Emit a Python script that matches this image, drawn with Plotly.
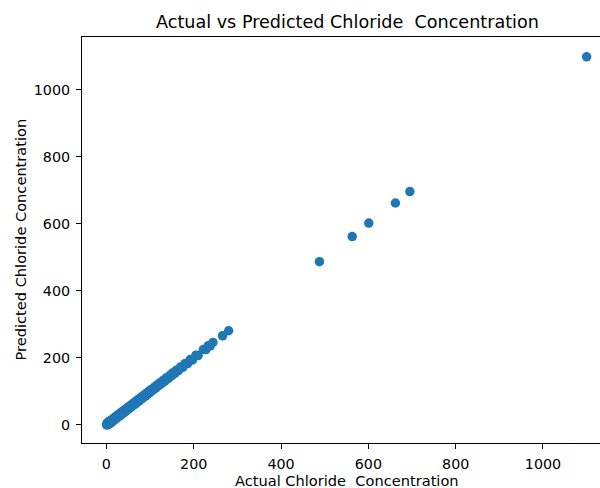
import plotly.graph_objects as go

actual = [0.5, 1, 1.5, 2, 2.5, 3, 3.5, 4, 5, 5.5, 6, 7, 8, 9, 10, 11, 12, 13, 14, 15,
          16, 17, 18, 19, 20, 21, 22, 24, 25, 26, 28, 29, 30, 32, 33, 35, 36, 38, 40, 41,
          43, 45, 46, 48, 50, 52, 54, 55, 57, 60, 62, 64, 66, 68, 70, 72, 75, 77, 80, 82,
          85, 88, 90, 93, 95, 98, 100, 103, 106, 110, 113, 116, 120, 123, 127, 130, 134, 138, 142, 146,
          150, 153, 157, 160, 165, 170, 175, 180, 186, 192, 197, 205, 210, 222, 228, 233, 238, 244, 266, 280,
          488, 563, 601, 662, 695, 1100]
predicted = [0.6, 3.1, 1.4, 5.1, 0.6, 6.0, 1.6, 8.1, 2.0, 9.4, 4.1, 11.0, 5.1, 12.0, 7.1, 14.0, 9.1, 16.0, 11.1, 18.0,
             13.1, 20.0, 15.1, 22.0, 17.0, 24.1, 19.0, 27.1, 22.0, 29.1, 25.0, 32.1, 27.0, 35.1, 30.0, 38.1, 33.0, 41.1, 37.0, 44.1,
             40.0, 48.1, 43.0, 51.1, 47.0, 55.1, 51.0, 58.1, 54.0, 63.1, 59.0, 67.1, 63.0, 71.1, 67.0, 75.1, 72.0, 80.1, 77.0, 85.1,
             82.0, 91.1, 87.0, 96.1, 92.0, 101.1, 97.0, 106.1, 103.0, 113.1, 110.0, 119.1, 117.0, 126.1, 124.0, 133.1, 131.0, 141.1, 139.0, 149.1,
             147.0, 156.1, 154.0, 163.1, 162.0, 173.1, 172.0, 183.1, 183.0, 195.1, 194.0, 208.1, 207.0, 225.1, 225.0, 236.1, 236.0, 246.1, 266.0, 281.0,
             487, 562, 602, 662, 696, 1098]

tick_vals = [0, 200, 400, 600, 800, 1000]
tick_text = ["0", "200", "400", "600", "800", "1000"]

title_text = "Actual vs Predicted Chloride\u00a0 Concentration"
x_label = "Actual Chloride\u00a0 Concentration"
y_label = "Predicted Chloride Concentration"

font_family = "DejaVu Sans"

fig = go.Figure()
fig.add_trace(go.Scatter(
    x=actual, y=predicted, mode="markers",
    marker=dict(color="#1f77b4", size=9.5, line=dict(width=0)),
    showlegend=False,
))

axis_common = dict(
    showgrid=False, zeroline=False, showline=True, linecolor="black", linewidth=1.1,
    ticks="outside", ticklen=5, tickwidth=1.1, tickcolor="black",
    tickfont=dict(family=font_family, size=14.3, color="#000000"),
    tickvals=tick_vals, ticktext=tick_text, ticklabelstandoff=3,
)

fig.update_xaxes(range=[-55.9, 1130.6], mirror=True, **axis_common)
fig.update_yaxes(range=[-53.7, 1157], mirror=False, **axis_common)

fig.update_layout(
    width=600, height=488,
    margin=dict(l=82, r=0, t=37, b=45),
    paper_bgcolor="white", plot_bgcolor="white",
    font=dict(family=font_family, color="#000000"),
    annotations=[
        dict(text=title_text, xref="paper", yref="paper", x=(347 - 82) / 518, y=1,
             xanchor="center", yanchor="bottom", yshift=3, showarrow=False,
             font=dict(family=font_family, size=17.6, color="#000000")),
        dict(text=x_label, xref="paper", yref="paper", x=(347 - 82) / 518, y=0,
             xanchor="center", yanchor="top", yshift=-27, showarrow=False,
             font=dict(family=font_family, size=14.6, color="#000000")),
        dict(text=y_label, xref="paper", yref="paper", x=0, y=0.5,
             xanchor="right", yanchor="middle", xshift=-52, textangle=-90, showarrow=False,
             font=dict(family=font_family, size=14.6, color="#000000")),
    ],
)

fig.write_html("out.html")
